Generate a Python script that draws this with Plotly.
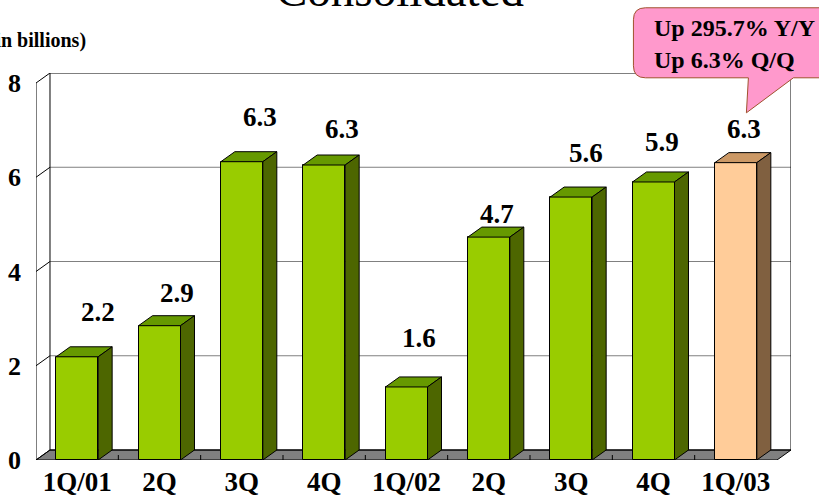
import plotly.graph_objects as go

# ---- data ----
categories = ["1Q/01", "2Q", "3Q", "4Q", "1Q/02", "2Q", "3Q", "4Q", "1Q/03"]
values = [2.19, 2.85, 6.33, 6.26, 1.55, 4.73, 5.58, 5.9, 6.31]
value_labels = ["2.2", "2.9", "6.3", "6.3", "1.6", "4.7", "5.6", "5.9", "6.3"]
y_ticks = [0, 2, 4, 6, 8]
title_text = "Consolidated"
unit_text = "(NT$ in billions)"
callout_lines = ["Up 295.7% Y/Y", "Up 6.3% Q/Q"]

# ---- geometry / style ----
W, H = 819, 497
PX_L, PX_R = 35.5, 790.6   # plot area in pixels
PX_B, PX_T = 460.0, 73.2
DX = 14 / 82.4             # depth offset in x units
DY = 10 / 47.1             # depth offset in y units
BW = 0.51                  # bar width
XMIN, XMAX = -0.5, 8.5
YMAX = 8
# label placement offsets (pixels, relative to bar front-top centre)
label_xshift = [21, 17, 18, 18, 12, 8, 15, 8, 8]
label_yshift = [45, 33, 45, 36, 49, 23, 44, 40, 34]

FONT = "Liberation Serif"
green = dict(front="#99CC00", top="#669900", side="#4D6600")
peach = dict(front="#FFCC99", top="#CC9966", side="#806040")
bar_colors = [green] * 8 + [peach]


def px2paper(px, py):
    return (px - PX_L) / (PX_R - PX_L), (PX_B - py) / (PX_B - PX_T)


fig = go.Figure()
shapes = []

# floor
shapes.append(dict(type="path", xref="x", yref="y", layer="below",
                   path=f"M {XMIN},0 L {XMAX},0 L {XMAX+DX},{DY} L {XMIN+DX},{DY} Z",
                   fillcolor="#808080", line=dict(color="black", width=1)))
# floor ticks
for k in range(len(categories) - 1):
    shapes.append(dict(type="line", xref="x", yref="y", layer="below",
                       x0=k + 0.5, x1=k + 0.5, y0=0, y1=DY * 0.5,
                       line=dict(color="black", width=1)))
# gridlines on back wall
for t in y_ticks[1:-1]:
    shapes.append(dict(type="line", xref="x", yref="y", layer="below",
                       x0=XMIN + DX, x1=XMAX + DX, y0=t + DY, y1=t + DY,
                       line=dict(color="#808080", width=1)))
# left wall diagonals
for t in y_ticks:
    shapes.append(dict(type="line", xref="x", yref="y", layer="below",
                       x0=XMIN, x1=XMIN + DX, y0=t, y1=t + DY,
                       line=dict(color="black", width=1)))
# back wall outline
shapes.append(dict(type="rect", xref="x", yref="y", layer="below",
                   x0=XMIN + DX, x1=XMAX + DX, y0=DY, y1=YMAX + DY,
                   line=dict(color="black", width=1)))
# front left edge
shapes.append(dict(type="line", xref="x", yref="y", layer="below",
                   x0=XMIN, x1=XMIN, y0=0, y1=YMAX,
                   line=dict(color="black", width=1)))

# bar front faces
fig.add_trace(go.Bar(x=list(range(len(categories))), y=values, width=BW,
                     marker=dict(color=[c["front"] for c in bar_colors],
                                 line=dict(color="black", width=1)),
                     hoverinfo="skip", showlegend=False))

# top and side faces
for i, v in enumerate(values):
    xl, xr = i - BW / 2, i + BW / 2
    c = bar_colors[i]
    fig.add_trace(go.Scatter(
        x=[xl, xr, xr + DX, xl + DX, xl], y=[v, v, v + DY, v + DY, v],
        mode="lines", fill="toself", fillcolor=c["top"],
        line=dict(color="black", width=1), hoverinfo="skip", showlegend=False))
    fig.add_trace(go.Scatter(
        x=[xr, xr + DX, xr + DX, xr, xr], y=[0, DY, v + DY, v, 0],
        mode="lines", fill="toself", fillcolor=c["side"],
        line=dict(color="black", width=1), hoverinfo="skip", showlegend=False))

annotations = []
for i, (v, lab) in enumerate(zip(values, value_labels)):
    annotations.append(dict(x=i, y=v, xref="x", yref="y", text=lab,
                            showarrow=False, xanchor="center", yanchor="middle",
                            xshift=label_xshift[i], yshift=label_yshift[i],
                            font=dict(family=FONT, size=27, color="black", weight="bold")))

# title
tx, ty = px2paper(400, -10)
annotations.append(dict(x=tx, y=ty, xref="paper", yref="paper", text=title_text,
                        showarrow=False, xanchor="center", yanchor="middle",
                        font=dict(family=FONT, size=47, color="black")))
# unit label
ux, uy = px2paper(88, 41)
annotations.append(dict(x=ux, y=uy, xref="paper", yref="paper", text=unit_text,
                        showarrow=False, xanchor="right", yanchor="middle",
                        font=dict(family=FONT, size=20, color="black", weight="bold")))

# callout
pts = [("M", 645, 8), ("L", 840, 8), ("L", 840, 78), ("L", 793, 78), ("L", 746, 113),
       ("L", 748, 78), ("L", 645, 78)]
path = ""
for cmd, px, py in pts:
    a, b = px2paper(px, py)
    path += f"{cmd} {a:.5f},{b:.5f} "
q1 = px2paper(633, 78); e1 = px2paper(633, 66)
l1 = px2paper(633, 20)
q2 = px2paper(633, 8); e2 = px2paper(645, 8)
path += f"Q {q1[0]:.5f},{q1[1]:.5f} {e1[0]:.5f},{e1[1]:.5f} "
path += f"L {l1[0]:.5f},{l1[1]:.5f} "
path += f"Q {q2[0]:.5f},{q2[1]:.5f} {e2[0]:.5f},{e2[1]:.5f} Z"
shapes.append(dict(type="path", xref="paper", yref="paper", layer="above", path=path,
                   fillcolor="#FF99CC", line=dict(color="#A0522D", width=1)))
for line_txt, cy in zip(callout_lines, [28, 60]):
    cx_, cy_ = px2paper(652, cy)
    annotations.append(dict(x=cx_, y=cy_, xref="paper", yref="paper", text=line_txt,
                            showarrow=False, xanchor="left", yanchor="middle",
                            font=dict(family=FONT, size=24, color="black", weight="bold")))

fig.update_layout(
    width=W, height=H,
    margin=dict(l=PX_L, r=W - PX_R, t=PX_T, b=H - PX_B, pad=0, autoexpand=False),
    paper_bgcolor="white", plot_bgcolor="white",
    shapes=shapes, annotations=annotations, bargap=0,
    xaxis=dict(range=[XMIN, XMAX + DX], tickvals=list(range(len(categories))),
               ticktext=categories, showgrid=False, zeroline=False, showline=False,
               ticks="", ticklabelstandoff=3, fixedrange=True, automargin=False,
               tickfont=dict(family=FONT, size=27, color="black", weight="bold")),
    yaxis=dict(range=[0, YMAX + DY], tickvals=y_ticks, showgrid=False, zeroline=False,
               showline=False, ticks="", ticklabelstandoff=14, fixedrange=True,
               automargin=False,
               tickfont=dict(family=FONT, size=26, color="black", weight="bold")),
)

fig.write_html("out.html", config={"displayModeBar": False},
               post_script="document.body.style.margin='0px';document.body.style.overflow='hidden';")
